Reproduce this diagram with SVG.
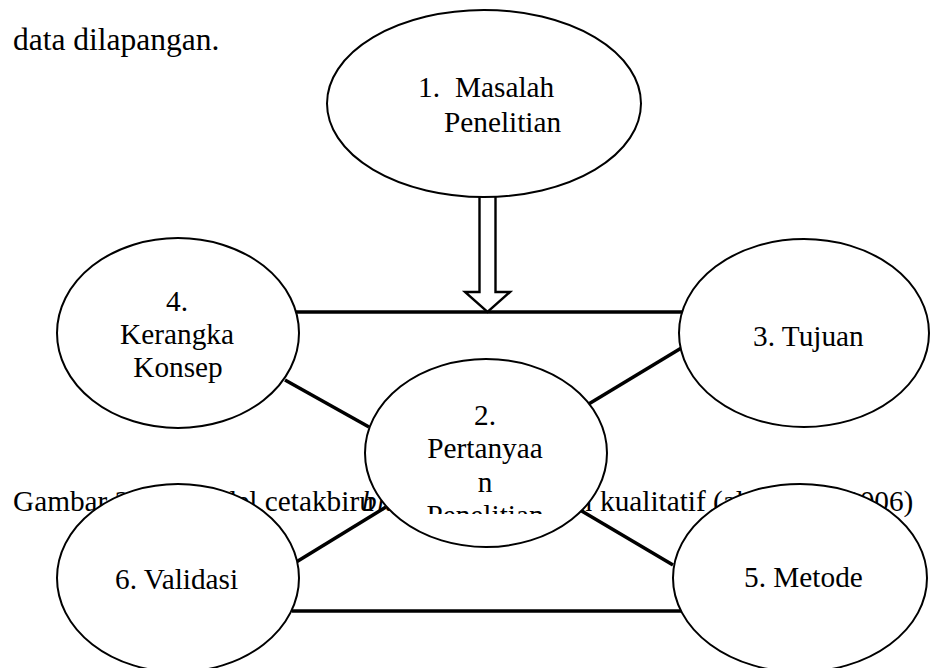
<svg xmlns="http://www.w3.org/2000/svg" width="930" height="668" viewBox="0 0 930 668">
<style>
text{font-family:"Liberation Serif","Times New Roman",serif;fill:#000}
.t{font-size:29.3px}
.b{font-size:31.5px}
.mid{text-anchor:middle}
.ell{fill:#fff;stroke:#000;stroke-width:2}
.con line{stroke:#000;stroke-width:3.5}
</style>
<defs>
<clipPath id="clip2"><rect x="360" y="360" width="260" height="154"/></clipPath>
</defs>
<rect width="930" height="668" fill="#fff"/>
<text class="b" x="13" y="50">data dilapangan.</text>
<text class="t" y="511"><tspan x="13">Gambar 2.1</tspan><tspan x="181">Model cetakbiru </tspan><tspan x="362" font-style="italic">blueprint</tspan><tspan> penelitian</tspan><tspan x="600">kualitatif (alwasilah</tspan><tspan x="845">2006)</tspan></text>
<g id="connectors" class="con">
<line x1="296" y1="312" x2="682" y2="312"/>
<line x1="292" y1="611" x2="682" y2="611"/>
<line x1="285" y1="380" x2="369" y2="427"/>
<line x1="683" y1="347" x2="587" y2="405"/>
<line x1="293" y1="564" x2="386" y2="507"/>
<line x1="580" y1="510" x2="673" y2="565"/>
<polygon points="479.5,190 495.5,190 495.5,292 510,292 487.5,312 465,292 479.5,292" fill="#fff" stroke="#000" stroke-width="2.4" stroke-linejoin="miter"/>
</g>
<g id="n1">
<ellipse class="ell" cx="484" cy="103.5" rx="157" ry="93.5"/>
<text class="t" x="418" y="97">1.</text>
<text class="t" x="455" y="97">Masalah</text>
<text class="t" x="444" y="132">Penelitian</text>
</g>
<g id="n4">
<ellipse class="ell" cx="178" cy="333" rx="121" ry="95"/>
<text class="t mid" x="177" y="311">4.</text>
<text class="t mid" x="177" y="344">Kerangka</text>
<text class="t mid" x="178" y="377">Konsep</text>
</g>
<g id="n3">
<ellipse class="ell" cx="804" cy="333" rx="125" ry="94"/>
<text class="t" x="753" y="346">3. Tujuan</text>
</g>
<g id="n2">
<ellipse class="ell" cx="486" cy="453" rx="121" ry="94"/>
<text class="t mid" x="485" y="425">2.</text>
<text class="t mid" x="485" y="458">Pertanyaa</text>
<text class="t mid" x="485" y="492">n</text>
<text class="t mid" x="485" y="525" clip-path="url(#clip2)">Penelitian</text>
</g>
<g id="n6">
<ellipse class="ell" cx="178" cy="578" rx="121" ry="94"/>
<text class="t" x="115" y="589">6. Validasi</text>
</g>
<g id="n5">
<ellipse class="ell" cx="800" cy="578" rx="127" ry="94"/>
<text class="t" x="744" y="587">5. Metode</text>
</g>
</svg>
